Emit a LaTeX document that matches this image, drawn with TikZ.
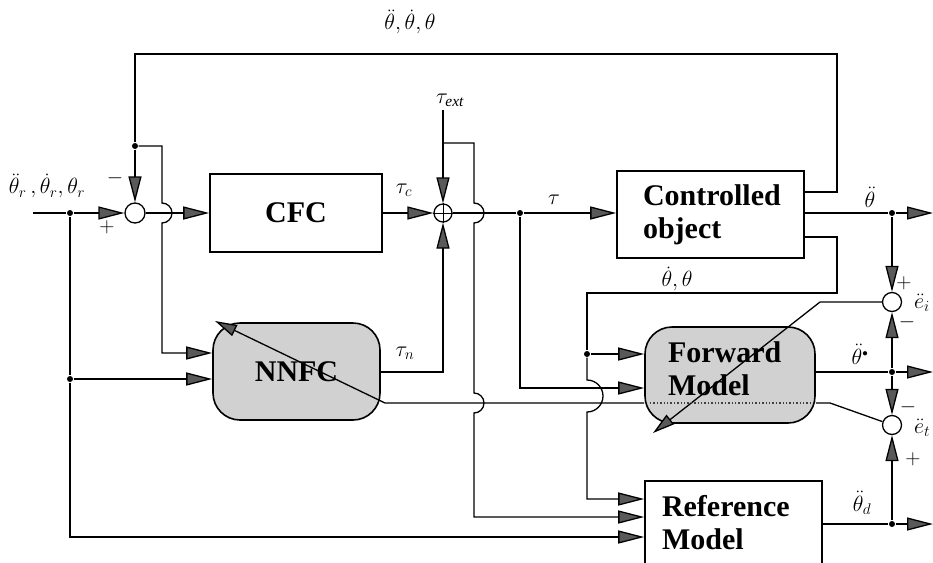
\RequirePackage{fix-cm}
\documentclass[tikz,border=0pt]{standalone}
\usepackage{fontspec}
\setmainfont{Liberation Serif}
\usetikzlibrary{arrows.meta}
\begin{document}
\begin{tikzpicture}[x=1pt,y=-1pt,line width=1.3pt,
  blk/.style={draw,line width=1.6pt,inner sep=0pt,font=\fontsize{30}{33}\selectfont\bfseries,align=left},
  rblk/.style={blk,rounded corners=27pt,fill=black!18},
  sumc/.style={draw,circle,minimum size=19pt,inner sep=0pt,fill=white},
  dotn/.style={circle,fill,inner sep=0pt,minimum size=6pt},
  arr/.style={-{Triangle[length=26pt,width=13pt,fill=black!65]}},
  arrs/.style={-{Triangle[length=22pt,width=12pt,fill=black!65]}},
  lbl/.style={font=\fontsize{22}{22}\selectfont,inner sep=0pt},
  sgn/.style={font=\fontsize{21}{21}\selectfont,inner sep=0pt}]
\useasboundingbox (0,0) rectangle (933,562);
\clip (0,0) rectangle (933,562);

% blocks
\node[blk,minimum width=172pt,minimum height=78pt,align=center] (cfc) at (296,213) {CFC};
\node[blk,minimum width=187pt,minimum height=87pt,text width=135pt,inner xsep=26pt] (co) at (710.5,214.5) {Controlled\\object};
\node[rblk,minimum width=167pt,minimum height=97pt,align=center] (nnfc) at (296.5,371.5) {NNFC};
\node[rblk,minimum width=170pt,minimum height=96pt,text width=124pt,inner xsep=23pt,text depth=46pt] (fm) at (730,375) {Forward\\Model};
\node[blk,minimum width=177pt,minimum height=84pt,text width=143pt,inner xsep=17pt] (rm) at (733.5,523) {Reference\\Model};

% summing junctions
\node[sumc,minimum size=20pt] (s1) at (135,213) {};
\node[sumc,minimum size=18pt] (s2) at (443,213) {};
\draw[line width=1pt] (s2.north) -- (s2.south) (s2.west) -- (s2.east);
\node[sumc] (s3) at (892,302) {};
\node[sumc] (s4) at (892,425) {};

% junction dots
\node[dotn] (d1) at (70,213) {};
\node[dotn] (d2) at (135,146) {};
\node[dotn] (d3) at (70,379) {};
\node[dotn] (d4) at (520,213) {};
\node[dotn] (d5) at (587,354) {};
\node[dotn] (d6) at (892,213) {};
\node[dotn] (d7) at (892,372) {};
\node[dotn] (d8) at (892,524) {};

% free ends
\coordinate (in) at (33,213);
\coordinate (te) at (443,110);
\coordinate (tb) at (443,143);
\coordinate (o1) at (933,213);
\coordinate (o2) at (933,372);
\coordinate (o3) at (933,524);

% input and first loop
\draw (in) -- (d1);
\draw[arr] (d1) -- (s1);
\draw[arr] (s1) -- (cfc.west |- s1);
\draw (co.east |- 0,192) -- (837,192) -- (837,54) -- (135,54) -- (d2);
\draw[arr] (d2) -- (s1);
\draw[arr] (d2) -- (162,146) -- (162,203) arc[start angle=90,end angle=-90,radius=10pt] -- (162,353) -- (nnfc.west |- 0,353);
\draw (d1) -- (d3);
\draw[arr] (d3) -- (nnfc.west |- d3);
\draw[arr] (d3) -- (70,537) -- (rm.west |- 0,537);

% torque summation
\draw[arr] (cfc.east |- s2) -- (s2);
\draw[arr] (te) -- (s2);
\draw[arr] (tb) -- (474,143) -- (474,203) arc[start angle=90,end angle=-90,radius=10pt] -- (474,393) arc[start angle=90,end angle=-90,radius=10pt] -- (474,517) -- (rm.west |- 0,517);
\draw[arr] (nnfc.east |- 0,372) -- (443,372) -- (s2);
\draw (s2) -- (d4);
\draw[arr] (d4) -- (co.west |- d4);
\draw[arr] (d4) -- (520,388) -- (fm.west |- 0,388);

% state feedback to forward / reference model
\draw (co.east |- 0,237) -- (837,237) -- (837,293) -- (587,293) -- (d5);
\draw[arr] (d5) -- (fm.west |- d5);
\draw[arr] (d5) -- (587,380) arc[start angle=90,end angle=-90,radius=16pt] -- (587,499) -- (rm.west |- 0,499);

% outputs
\draw (co.east |- d6) -- (d6);
\draw[arr] (d6) -- (o1);
\draw[arr] (d6) -- (s3);
\draw (fm.east |- d7) -- (d7);
\draw[arr] (d7) -- (o2);
\draw[arr] (d7) -- (s3);
\draw[arr] (d7) -- (s4);
\draw (rm.east |- d8) -- (d8);
\draw[arr] (d8) -- (o3);
\draw[arr] (d8) -- (s4);

% learning signals
\draw[arrs] (s3) -- (820,302) -- (653,433);
\draw[dotted,line width=1.4pt,black!75] (650,403) -- (812,403);
\draw (fm.east |- 0,403) -- (830,403) -- (s4);
\draw[arrs] (fm.west |- 0,403) -- (385,403) -- (215,321);

% labels
\node[lbl] (Ltop) at (410,22) {$\ddot\theta,\dot\theta,\theta$};
\node[lbl] (Lin) at (47,186) {$\ddot\theta_r\,,\dot\theta_r,\theta_r$};
\node[sgn] (m1) at (115,178) {$-$};
\node[sgn] (p1) at (107,227) {$+$};
\node[lbl] (Ltc) at (404,190) {$\tau_c$};
\node[lbl] (Lte) at (450,100) {$\tau_{\mathit{ext}}$};
\node[lbl] (Ltn) at (405,353) {$\tau_n$};
\node[lbl] (Lt) at (554,200) {$\tau$};
\node[lbl] (Lth) at (870,197) {$\ddot\theta$};
\node[lbl] (Lst) at (677,279) {$\dot\theta,\theta$};
\node[lbl] (Lfm) at (860,354) {$\ddot\theta^{\scriptscriptstyle\bullet}$};
\node[lbl] (Ld) at (862,503) {$\ddot\theta_d$};
\node[lbl] (Lei) at (922,303) {$\ddot e_i$};
\node[lbl] (Let) at (922,428) {$\ddot e_t$};
\node[sgn] (p3) at (904,283) {$+$};
\node[sgn] (m3) at (907,322) {$-$};
\node[sgn] (m4) at (908,407) {$-$};
\node[sgn] (p4) at (913,459) {$+$};
\end{tikzpicture}
\end{document}
